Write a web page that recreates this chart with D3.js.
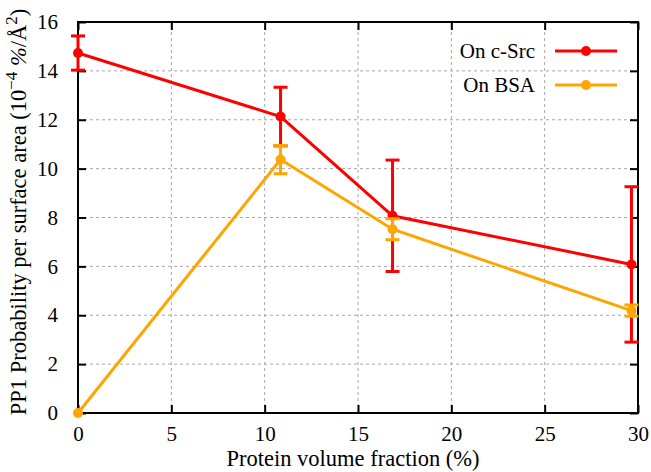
<!DOCTYPE html>
<html>
<head>
<meta charset="utf-8">
<script src="https://cdn.jsdelivr.net/npm/d3@7"></script>
<style>
  body { margin: 0; background: #fff; }
</style>
</head>
<body>
<div class="chart"></div>
<script>
// values
const fractions = [0, 10.85, 16.85, 29.65];
const srcValues = [14.73, 12.13, 8.07, 6.08];
const srcErrors = [0.7, 1.2, 2.28, 3.18];
const bsaValues = [0, 10.37, 7.52, 4.19];
const bsaErrors = [0, 0.58, 0.43, 0.23];
const xTicks = [0, 5, 10, 15, 20, 25, 30];
const yTicks = [0, 2, 4, 6, 8, 10, 12, 14, 16];

const series = [
  { name: 'On c-Src', color: '#ff0000', values: srcValues, errors: srcErrors },
  { name: 'On BSA', color: '#ffa500', values: bsaValues, errors: bsaErrors }
];

const FONT = '"Liberation Serif", "Times New Roman", serif';
const width = 651;
const height = 472;
const margin = { top: 22, right: 13, bottom: 59, left: 78 };

const svg = d3
  .select('.chart')
  .append('svg')
  .attr('width', width)
  .attr('height', height)
  .style('font-family', FONT);

const x = d3
  .scaleLinear()
  .domain([0, 30])
  .range([margin.left, width - margin.right]);

const y = d3
  .scaleLinear()
  .domain([0, 16])
  .range([height - margin.bottom, margin.top]);

// grid
const grid = svg.append('g')
  .attr('stroke', '#a8a8a8')
  .attr('stroke-width', 1)
  .attr('stroke-dasharray', '3,3');
grid.selectAll('.gx')
  .data(xTicks.slice(1, -1))
  .enter()
  .append('line')
  .attr('x1', (d) => x(d)).attr('x2', (d) => x(d))
  .attr('y1', y(0)).attr('y2', y(16));
grid.selectAll('.gy')
  .data(yTicks.slice(1, -1))
  .enter()
  .append('line')
  .attr('x1', x(0)).attr('x2', x(30))
  .attr('y1', (d) => y(d)).attr('y2', (d) => y(d));

// axes, ticks pointing inside, mirrored on top and right
const tickLen = 8;
const xAxis = (g) =>
  g
    .attr('transform', `translate(0, ${y(0)})`)
    .call(d3.axisBottom(x).tickValues(xTicks).tickSizeInner(-tickLen).tickSizeOuter(0).tickPadding(13));
const yAxis = (g) =>
  g
    .attr('transform', `translate(${x(0)}, 0)`)
    .call(d3.axisLeft(y).tickValues(yTicks).tickSizeInner(-tickLen).tickSizeOuter(0).tickPadding(20));
const xTop = (g) =>
  g
    .attr('transform', `translate(0, ${y(16)})`)
    .call(d3.axisTop(x).tickValues(xTicks).tickSizeInner(-tickLen).tickSizeOuter(0).tickFormat(''));
const yRight = (g) =>
  g
    .attr('transform', `translate(${x(30)}, 0)`)
    .call(d3.axisRight(y).tickValues(yTicks).tickSizeInner(-tickLen).tickSizeOuter(0).tickFormat(''));

[xAxis, yAxis, xTop, yRight].forEach((ax) => {
  const g = svg.append('g').call(ax);
  g.attr('font-family', null).attr('font-size', null);
  g.select('.domain').remove();
  g.selectAll('line').attr('stroke', '#000').attr('stroke-width', 2);
  g.selectAll('text')
    .attr('fill', '#000')
    .style('font-size', '21px')
    .style('font-family', FONT);
});

// frame
svg.append('rect')
  .attr('x', x(0)).attr('y', y(16))
  .attr('width', x(30) - x(0)).attr('height', y(0) - y(16))
  .attr('fill', 'none').attr('stroke', '#000').attr('stroke-width', 2);

// series
const line = d3.line().x((d) => x(d[0])).y((d) => y(d[1]));
const capW = 7;

series.forEach((s) => {
  const pts = fractions.map((f, i) => [f, s.values[i], s.errors[i]]);
  const g = svg.append('g');
  g.append('path')
    .datum(pts)
    .attr('d', line)
    .attr('fill', 'none')
    .attr('stroke', s.color)
    .attr('stroke-width', 3);
  const eb = g.selectAll('.err')
    .data(pts.filter((d) => d[2] > 0))
    .enter()
    .append('g')
    .attr('stroke', s.color)
    .attr('stroke-width', 3);
  eb.append('line')
    .attr('x1', (d) => x(d[0])).attr('x2', (d) => x(d[0]))
    .attr('y1', (d) => y(d[1] - d[2])).attr('y2', (d) => y(d[1] + d[2]));
  eb.append('line')
    .attr('x1', (d) => x(d[0]) - capW).attr('x2', (d) => x(d[0]) + capW)
    .attr('y1', (d) => y(d[1] - d[2])).attr('y2', (d) => y(d[1] - d[2]));
  eb.append('line')
    .attr('x1', (d) => x(d[0]) - capW).attr('x2', (d) => x(d[0]) + capW)
    .attr('y1', (d) => y(d[1] + d[2])).attr('y2', (d) => y(d[1] + d[2]));
  g.selectAll('circle')
    .data(pts)
    .enter()
    .append('circle')
    .attr('cx', (d) => x(d[0]))
    .attr('cy', (d) => y(d[1]))
    .attr('r', 5)
    .attr('fill', s.color);
});

// legend
const legend = svg.append('g')
  .selectAll('g')
  .data(series)
  .enter()
  .append('g')
  .attr('transform', (d, i) => `translate(0, ${51 + i * 34})`);
legend.append('text')
  .attr('x', 535)
  .attr('y', 7)
  .attr('text-anchor', 'end')
  .style('font-family', FONT)
  .style('font-size', '21px')
  .text((d) => d.name);
legend.append('line')
  .attr('x1', 555).attr('x2', 617)
  .attr('stroke', (d) => d.color)
  .attr('stroke-width', 3);
legend.append('circle')
  .attr('cx', 586)
  .attr('r', 5)
  .attr('fill', (d) => d.color);

// axis titles
svg.append('text')
  .attr('x', 353)
  .attr('y', 466)
  .attr('text-anchor', 'middle')
  .style('font-family', FONT)
  .style('font-size', '22.5px')
  .text('Protein volume fraction (%)');

const yLabel = svg.append('text')
  .attr('transform', 'translate(26, 212) rotate(-90)')
  .attr('text-anchor', 'middle')
  .style('font-family', FONT)
  .style('font-size', '22.5px');
yLabel.append('tspan').text('PP1 Probability per surface area (10');
yLabel.append('tspan').attr('dy', -9).style('font-size', '17px').text('\u22124');
yLabel.append('tspan').attr('dy', 9).text(' ');
yLabel.append('tspan').style('font-style', 'italic').text('%');
yLabel.append('tspan').text('/\u00C5');
yLabel.append('tspan').attr('dy', -9).style('font-size', '17px').text('2');
yLabel.append('tspan').attr('dy', 9).text(')');
</script>
</body>
</html>
